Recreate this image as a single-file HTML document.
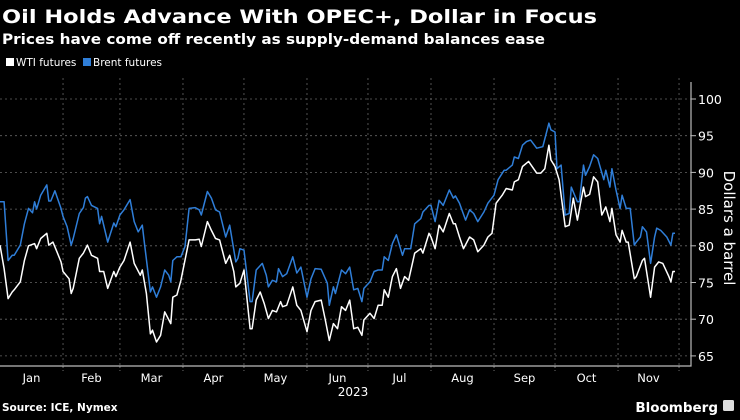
<!DOCTYPE html>
<html><head><meta charset="utf-8"><style>
html,body{margin:0;padding:0;background:#000;}
body{width:740px;height:416px;overflow:hidden;font-family:"DejaVu Sans","Liberation Sans",sans-serif;}
</style></head><body>
<svg id="chart" width="740" height="416" viewBox="0 0 740 416" xmlns="http://www.w3.org/2000/svg" font-family="DejaVu Sans, Liberation Sans, sans-serif">
<rect width="740" height="416" fill="#000"/>
<text x="2" y="23" fill="#fff" font-size="19" font-weight="bold" textLength="595" lengthAdjust="spacingAndGlyphs">Oil Holds Advance With OPEC+, Dollar in Focus</text>
<text x="2" y="44" fill="#fff" font-size="14" font-weight="bold" textLength="543" lengthAdjust="spacingAndGlyphs">Prices have come off recently as supply-demand balances ease</text>
<g>
<rect x="6" y="58" width="8" height="8" fill="#fff"/>
<text x="16" y="66" fill="#fff" font-size="10.5">WTI futures</text>
<rect x="83" y="58" width="8" height="8" fill="#2f7ed8"/>
<text x="93" y="66" fill="#fff" font-size="10.5">Brent futures</text>
</g>
<g id="grid"></g>
<g id="series"></g>
<g id="axes"></g>
<text transform="translate(724,228) rotate(90)" text-anchor="middle" fill="#fff" font-size="15">Dollars a barrel</text>
<text x="353" y="396" text-anchor="middle" fill="#fff" font-size="12">2023</text>
<text x="2" y="411" fill="#fff" font-size="10.5" font-weight="bold">Source: ICE, Nymex</text>
<text x="718" y="412" text-anchor="end" fill="#fff" font-size="13.5" font-weight="bold">Bloomberg</text>
<rect x="723" y="400" width="11" height="11" rx="1.5" fill="#ddd"/>
</svg>
<script>
const brentDays=[0,2,4,6,7,10,12,14,16,17,18,20,23,24,25,27,28,30,31,33,35,36,39,41,42,43,45,48,49,50,53,56,57,59,61,64,66,68,70,71,74,75,77,79,81,83,84,85,87,89,91,93,96,98,99,102,104,106,108,111,113,116,117,118,120,123,124,126,129,131,132,134,136,137,139,141,144,146,148,151,153,155,158,161,162,164,165,168,170,172,174,176,178,179,182,184,186,188,189,191,193,195,198,199,202,204,207,208,211,212,214,216,218,221,223,224,226,229,231,233,235,238,240,243,245,248,249,252,253,255,257,259,261,264,267,270,271,273,274,276,278,280,281,284,285,287,288,290,292,294,297,298,300,301,303,305,306,308,310,312,313,315,316,318,320,322,323,325,328,330,331,332];
const brentValues=[86,86,78,78.7,78.7,80.1,83,85.1,84.5,86,85,86.9,88.3,86.1,86.1,87.5,86.7,85.1,84,82.6,80.1,81,84.4,85.2,86.5,86.7,85.5,85.1,83,84,80.5,83.1,82.6,84.2,84.9,86.3,83.3,81.9,82.8,80.5,73.7,74.4,73,74.4,76.7,76,75.1,78,78.5,78.5,79.9,85.1,85.2,84.9,84.2,87.4,86.5,84.9,84.6,81.2,82.8,77.8,78.3,79.6,79.4,72.4,72.4,76.7,77.6,76,74.4,75.3,75.1,76.9,75.8,76.2,78.5,76.3,77.1,73,75.5,76.9,76.8,74.9,71.9,74.4,73.5,76.7,76.2,77.1,74,74.2,72.4,74.2,75.1,76.5,76.7,76.7,78.5,78,80.3,81.5,78.7,79.6,79.6,83,83.7,84.6,85.5,85.5,83.3,86.2,85.5,87.6,86.5,86.8,85.8,83.5,84.9,84.4,83.3,84.6,85.8,86.9,89,90.3,90.3,91,92.1,91.9,93.7,94.2,94.4,93.3,93.5,96.7,95.8,95.5,90.5,91,84.2,84.4,88,86,86,91,89.6,90.8,92.4,91.9,89,90.3,88,90.5,87.6,85.1,86.9,85.1,85.1,80.1,80.5,81.2,82.6,81.9,77.6,81.2,82.4,82.1,81.2,80.1,81.7,81.7];
const wtiDays=[0,2,4,6,7,10,12,14,17,18,20,23,24,26,28,30,31,34,35,36,39,41,43,45,48,49,51,53,56,57,59,61,64,66,69,70,72,74,75,77,79,81,84,85,87,89,93,96,98,99,102,104,106,108,111,113,115,116,118,120,123,124,126,128,130,132,134,136,138,139,141,144,146,148,151,153,155,158,160,162,164,166,168,170,172,174,176,178,179,182,184,186,188,189,191,193,195,197,199,201,204,207,208,211,212,214,216,218,221,223,224,226,228,231,233,235,238,240,242,244,247,249,252,253,255,257,260,264,266,268,270,271,273,275,278,280,282,284,287,288,290,292,294,296,298,300,301,303,305,306,308,309,312,313,316,317,320,322,324,326,329,330,331,332];
const wtiValues=[80.1,76.9,72.8,73.7,74,75.1,78,80,80.3,79.6,81,81.7,80.1,80.5,79.2,77.8,76.5,75.5,73.5,74.2,78.3,79,80.1,78.7,78.3,76.5,76.5,74.2,76.5,75.8,77.1,78,80.5,77.6,76,76.7,73.5,68,68.5,66.9,67.8,71,69.4,73,73.3,75.3,80.8,80.8,80.9,79.9,83.3,82.1,81,80.8,77.6,78.7,76.5,74.4,74.9,76.7,68.7,68.7,72.6,73.7,72.1,70.1,71.2,71,72.4,71.7,71.9,74.4,71.9,71.2,68.3,71.2,72.4,72.6,69.9,67.1,69.4,68.7,71.7,71.2,72.6,68.7,68.9,67.8,69.9,70.8,70.1,71.9,71.9,74,73,75.8,76.9,74.2,75.8,75.3,79,79.6,79,81.7,81.2,79.6,82.8,81.9,84.4,83,83,81.2,79.6,81.2,80.8,79.2,80.1,81.2,81.7,85.8,86.9,87.8,87.6,88.7,89,90.8,91.5,89.9,89.9,90.5,93.7,91.7,90.8,89,82.6,82.8,86.5,83.5,88,86.7,87,89.4,88.7,84.2,85.3,83.3,85.1,81.5,80.5,82.1,80.5,80.5,75.5,75.8,78,78.3,73,77.1,77.8,77.6,75.8,75.1,76.5,76.5];
const yTicks=[65,70,75,80,85,90,95,100];
const monthLabels=["Jan","Feb","Mar","Apr","May","Jun","Jul","Aug","Sep","Oct","Nov"];
const monthStarts=[0,31,59,90,120,151,181,212,243,273,304,334];

const NS="http://www.w3.org/2000/svg";
const X0=0,PX_PER_DAY=2.033,PLOT_R=691,PLOT_B=366,PLOT_T=78;
function xScale(d){return X0+d*PX_PER_DAY;}
function yScale(v){return 99+(100-v)*7.34;}
function mk(tag,attrs,parent){const e=document.createElementNS(NS,tag);for(const k in attrs)e.setAttribute(k,attrs[k]);parent.appendChild(e);return e;}
const grid=document.getElementById('grid'),axes=document.getElementById('axes'),series=document.getElementById('series');
yTicks.forEach(v=>{
  const y=yScale(v);
  const l=mk('line',{x1:0,x2:PLOT_R,y1:y,y2:y,stroke:'#666','stroke-width':0.8,'stroke-dasharray':'2,3'},grid);
  
  
  const t=mk('line',{x1:PLOT_R,x2:PLOT_R+5,y1:y,y2:y,stroke:'#bbb','stroke-width':1},axes);
  
  
  const tx=mk('text',{x:PLOT_R+7,y:y+5,fill:'#fff','font-size':12.5},axes);
  tx.textContent=v;
  
  
});
monthStarts.forEach((d,i)=>{
  const x=xScale(d);
  if(d>0){
  const l=mk('line',{x1:x,x2:x,y1:PLOT_T,y2:PLOT_B,stroke:'#666','stroke-width':0.8,'stroke-dasharray':'2,3'},grid);
  
  
  const t=mk('line',{x1:x,x2:x,y1:PLOT_B,y2:PLOT_B+5,stroke:'#888','stroke-width':0.8,'stroke-dasharray':'2,2'},axes);
  
  
  }
  if(i<monthLabels.length){
    const tx=mk('text',{x:(xScale(d)+xScale(monthStarts[i+1]))/2,y:382,fill:'#fff','font-size':11.5,'text-anchor':'middle'},axes);
    tx.textContent=monthLabels[i];
    
    
  }
});
const ax=mk('path',{d:`M0 ${PLOT_B} H${PLOT_R} V${PLOT_T+4}`,fill:'none',stroke:'#bbb','stroke-width':1.2},axes);


function line(days,vals,color,name){
  const d=days.map((dd,i)=>(i?'L':'M')+xScale(dd).toFixed(1)+' '+yScale(vals[i]).toFixed(1)).join(' ');
  const p=mk('path',{d:d,fill:'none',stroke:color,'stroke-width':1.5,'stroke-linejoin':'round'},series);
  
  
}
line(brentDays,brentValues,'#2f7ed8','brent-line');
line(wtiDays,wtiValues,'#ffffff','wti-line');
</script>
</body></html>
